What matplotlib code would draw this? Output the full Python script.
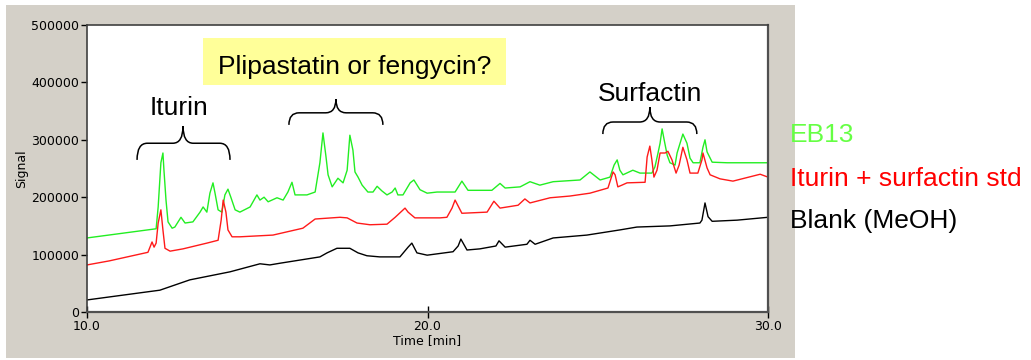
import matplotlib
matplotlib.use('Agg')
import matplotlib.pyplot as plt
from matplotlib.patches import Rectangle, PathPatch
from matplotlib.path import Path
from matplotlib.ticker import FuncFormatter

# HPLC traces: retention time [min] vs detector signal
eb13_time = [10.00, 12.03, 12.09, 12.17, 12.23, 12.26, 12.32, 12.38, 12.50, 12.58,
             12.76, 12.88, 13.11, 13.32, 13.41, 13.52, 13.61, 13.70, 13.76, 13.85,
             13.96, 14.05, 14.14, 14.23, 14.35, 14.49, 14.79, 14.99, 15.08, 15.20,
             15.32, 15.58, 15.76, 15.90, 16.02, 16.11, 16.46, 16.70, 16.84, 16.93,
             17.02, 17.08, 17.20, 17.37, 17.52, 17.64, 17.72, 17.81, 17.87, 17.96,
             18.08, 18.25, 18.40, 18.52, 18.66, 18.81, 18.96, 19.05, 19.13, 19.28,
             19.49, 19.60, 19.78, 19.99, 20.28, 20.81, 21.01, 21.19, 21.89, 22.13,
             22.28, 22.72, 23.01, 23.30, 23.69, 24.48, 24.77, 25.07, 25.36, 25.48,
             25.57, 25.65, 25.74, 26.03, 26.24, 26.59, 26.68, 26.77, 26.83, 26.89,
             26.95, 27.04, 27.12, 27.27, 27.33, 27.50, 27.62, 27.71, 27.80, 28.00,
             28.09, 28.15, 28.21, 28.36, 28.80, 30.00]
eb13_signal = [129000, 145000, 183000, 260000, 277000, 247000, 195000, 157000, 146000, 148000,
               165000, 155000, 157000, 174000, 183000, 174000, 207000, 225000, 207000, 178000,
               174000, 204000, 214000, 199000, 178000, 174000, 183000, 204000, 195000, 200000,
               192000, 199000, 195000, 209000, 226000, 204000, 204000, 209000, 260000, 312000,
               270000, 239000, 218000, 233000, 225000, 247000, 308000, 282000, 244000, 235000,
               221000, 209000, 209000, 219000, 211000, 204000, 209000, 216000, 204000, 204000,
               225000, 230000, 213000, 207000, 209000, 209000, 228000, 212000, 212000, 224000,
               216000, 218000, 227000, 221000, 227000, 230000, 244000, 230000, 235000, 256000,
               265000, 247000, 239000, 247000, 242000, 242000, 253000, 277000, 294000, 319000,
               300000, 273000, 260000, 256000, 277000, 310000, 294000, 268000, 260000, 260000,
               287000, 300000, 279000, 261000, 260000, 260000]

std_time = [10.00, 10.65, 11.79, 11.91, 11.97, 12.03, 12.09, 12.17, 12.23, 12.29,
            12.44, 12.82, 13.52, 13.85, 13.94, 14.00, 14.08, 14.14, 14.26, 14.49,
            15.46, 16.34, 16.70, 17.43, 17.64, 17.93, 18.31, 18.81, 19.05, 19.34,
            19.43, 19.63, 20.37, 20.57, 20.72, 20.81, 21.01, 21.75, 21.95, 22.13,
            22.66, 22.86, 23.01, 23.60, 24.18, 24.77, 25.30, 25.45, 25.51, 25.59,
            25.71, 25.86, 26.39, 26.45, 26.53, 26.59, 26.65, 26.74, 26.83, 26.98,
            27.06, 27.18, 27.30, 27.39, 27.50, 27.62, 27.71, 27.94, 28.06, 28.09,
            28.21, 28.30, 28.59, 28.97, 29.77, 30.00]
std_signal = [82000, 89000, 104000, 122000, 113000, 120000, 155000, 178000, 143000, 111000,
              106000, 110000, 120000, 125000, 160000, 195000, 174000, 143000, 131000, 131000,
              134000, 146000, 162000, 165000, 164000, 155000, 152000, 153000, 165000, 181000,
              174000, 164000, 164000, 165000, 181000, 195000, 172000, 174000, 193000, 181000,
              186000, 197000, 190000, 199000, 202000, 207000, 216000, 244000, 239000, 218000,
              221000, 225000, 226000, 270000, 289000, 265000, 235000, 247000, 277000, 277000,
              280000, 265000, 242000, 256000, 287000, 265000, 242000, 242000, 265000, 277000,
              251000, 239000, 232000, 228000, 240000, 235000]

blank_time = [10.00, 11.76, 12.14, 13.02, 14.20, 15.08, 15.37, 15.67, 16.84, 17.05,
              17.34, 17.72, 17.96, 18.22, 18.60, 19.19, 19.43, 19.54, 19.69, 19.99,
              20.75, 20.90, 20.98, 21.16, 21.54, 22.01, 22.10, 22.28, 22.92, 23.01,
              23.16, 23.69, 24.68, 25.65, 26.15, 27.12, 28.00, 28.06, 28.15, 28.24,
              28.36, 29.09, 30.00]
blank_signal = [21000, 35000, 38000, 56000, 70000, 84000, 82000, 85000, 96000, 103000,
                111000, 111000, 103000, 98000, 96000, 96000, 113000, 120000, 103000, 99000,
                105000, 115000, 127000, 108000, 110000, 115000, 124000, 113000, 118000, 125000,
                118000, 129000, 134000, 143000, 148000, 150000, 155000, 160000, 190000, 166000,
                158000, 160000, 165000]

trace_names = ['EB13', 'Iturin + surfactin std', 'Blank (MeOH)']
trace_colors = ['#22ee22', '#ff1a1a', 'black']
label_colors = ['#66ff44', '#ff0000', 'black']

x_ticks = [10.0, 20.0, 30.0]
y_ticks = [0, 100000, 200000, 300000, 400000, 500000]

# lipopeptide groups: label, brace start / end / tip (min)
group_names = ['Iturin', 'Plipastatin or fengycin?', 'Surfactin']
brace_start = [11.47, 15.93, 25.15]
brace_end = [14.20, 18.69, 27.91]
brace_tip = [12.82, 17.31, 26.53]


def draw_brace(ax, t0, t1, tm, y_end, y_bar, y_tip, r=0.3):
    verts = [(t0, y_end), (t0, y_bar), (t0 + r, y_bar),
             (tm - r, y_bar), (tm, y_bar), (tm, y_tip),
             (tm, y_bar), (tm + r, y_bar),
             (t1 - r, y_bar), (t1, y_bar), (t1, y_end)]
    codes = [Path.MOVETO, Path.CURVE3, Path.CURVE3,
             Path.LINETO, Path.CURVE3, Path.CURVE3,
             Path.CURVE3, Path.CURVE3,
             Path.LINETO, Path.CURVE3, Path.CURVE3]
    patch = PathPatch(Path(verts, codes), fill=False, edgecolor='black',
                      linewidth=1.1, clip_on=False, zorder=5)
    ax.add_patch(patch)


fig = plt.figure(figsize=(10.31, 3.6), dpi=100, facecolor='white')
# grey window panel behind the chromatogram
fig.patches.append(Rectangle((6 / 1031, 1 - 358 / 360), 789 / 1031, 353 / 360,
                             transform=fig.transFigure, facecolor='#d4d0c8',
                             edgecolor='none', zorder=-10))

ax = fig.add_axes([87 / 1031, 48 / 360, 681 / 1031, 287 / 360])
ax.set_facecolor('white')

series = [(eb13_time, eb13_signal), (std_time, std_signal), (blank_time, blank_signal)]
for (t, s), c in zip(series, trace_colors):
    ax.plot(t, s, color=c, linewidth=1.0)

ax.set_xlim(10, 30)
ax.set_ylim(0, 500000)
ax.set_xticks(x_ticks)
ax.set_yticks(y_ticks)
ax.xaxis.set_major_formatter(FuncFormatter(lambda v, p: f"{v:.1f}"))
ax.yaxis.set_major_formatter(FuncFormatter(lambda v, p: f"{int(v)}"))
ax.tick_params(axis='x', direction='inout', length=8, width=1, pad=1.5, labelsize=9)
ax.tick_params(axis='y', direction='out', length=4.5, width=1, pad=1, labelsize=9)
ax.set_xlabel('Time [min]', fontsize=9, labelpad=1)
ax.set_ylabel('Signal', fontsize=9, labelpad=2)

for side in ['left', 'top']:
    ax.spines[side].set_color('#404040')
    ax.spines[side].set_linewidth(1.2)
for side in ['right', 'bottom']:
    ax.spines[side].set_color('#505050')
    ax.spines[side].set_linewidth(1.6)

ann_font = dict(family='Liberation Sans', fontsize=19, color='black')

# Iturin group
draw_brace(ax, brace_start[0], brace_end[0], brace_tip[0], 265000, 294000, 324000)
ax.text(12.70, 343000, group_names[0], ha='center', va='baseline', **ann_font)

# Plipastatin / fengycin group, label in a highlighted box
draw_brace(ax, brace_start[1], brace_end[1], brace_tip[1], 326000, 347000, 371000)
ax.add_patch(Rectangle((13.41, 395000), 8.90, 82000, facecolor='#ffff99',
                       edgecolor='none', zorder=4))
ax.text(17.86, 415000, group_names[1], ha='center', va='baseline', zorder=6, **ann_font)

# Surfactin group
draw_brace(ax, brace_start[2], brace_end[2], brace_tip[2], 310000, 331000, 357000)
ax.text(26.53, 367000, group_names[2], ha='center', va='baseline', **ann_font)

# trace labels to the right of the panel
label_y = [1 - 142 / 360, 1 - 186 / 360, 1 - 228 / 360]
for name, c, y in zip(trace_names, label_colors, label_y):
    fig.text(790 / 1031, y, name, color=c, ha='left', va='baseline',
             family='Liberation Sans', fontsize=19)

plt.savefig('out.png', dpi=100)
